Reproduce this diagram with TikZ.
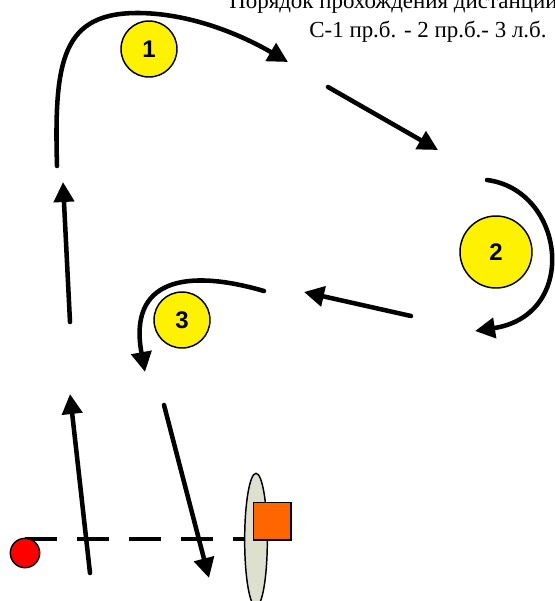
\documentclass[tikz,border=0pt]{standalone}
\usepackage{fontspec}
\setmainfont{Liberation Serif}
\newfontfamily\numfont{Liberation Sans}
\usetikzlibrary{arrows.meta, shapes.geometric}

\definecolor{gatefill}{RGB}{221,224,204}
\definecolor{flagorange}{RGB}{255,102,0}

\begin{document}
\begin{tikzpicture}[x=0.75pt, y=-0.75pt,
  route/.style={line width=3.4pt, line cap=round, -{Triangle[length=15pt,width=15pt]}},
  stage/.style={circle, draw, line width=1.1pt, fill=yellow, inner sep=0pt,
    font=\numfont\bfseries\fontsize{18}{18}\selectfont},
  caption/.style={inner sep=0pt, font=\fontsize{17.2}{20}\selectfont}]

\useasboundingbox (0,0) rectangle (555,601);

% ---- title ----
\node[caption, anchor=base west] (title) at (229,8) {Порядок прохождения дистанции};
\node[caption, anchor=base] (order) at (428,37) {С-1 пр.б. - 2 пр.б.- 3 л.б.};

% ---- start line and gate ----
\draw[line width=2.7pt, dash pattern=on 24pt off 15pt] (25,539) -- (256,539);
\node[circle, draw, line width=1.1pt, fill=red, minimum size=22pt, inner sep=0pt] (start) at (25,553) {};
\node[ellipse, draw, line width=1.1pt, fill=gatefill, minimum width=17pt, minimum height=100pt, inner sep=0pt] (gate) at (256,540) {};
\node[draw, line width=1.1pt, fill=flagorange, minimum size=28pt, inner sep=0pt, anchor=north west] (flag) at (253,502) {};

% ---- stages ----
\node[stage, minimum size=42pt] (s1) at (149,49) {1};
\node[stage, minimum size=54pt] (s2) at (496,252) {2};
\node[stage, minimum size=42pt] (s3) at (182,320) {3};

% ---- route ----
\draw[route] (90,573) -- (70,394);
\draw[route] (70,322) -- (63,182);
\draw[route] (57,166) .. controls (54,60) and (62,12) .. (140,13) .. controls (195,14) and (245,37) .. (288,62);
\draw[route] (328,87) -- (438,150);
\draw[route] (487,180) .. controls (565,190) and (580,315) .. (475,331);
\draw[route] (411,316) -- (304,292);
\draw[route] (264,291) .. controls (185,268) and (128,280) .. (145,372);
\draw[route] (164,405) -- (209,578);
\end{tikzpicture}
\end{document}
